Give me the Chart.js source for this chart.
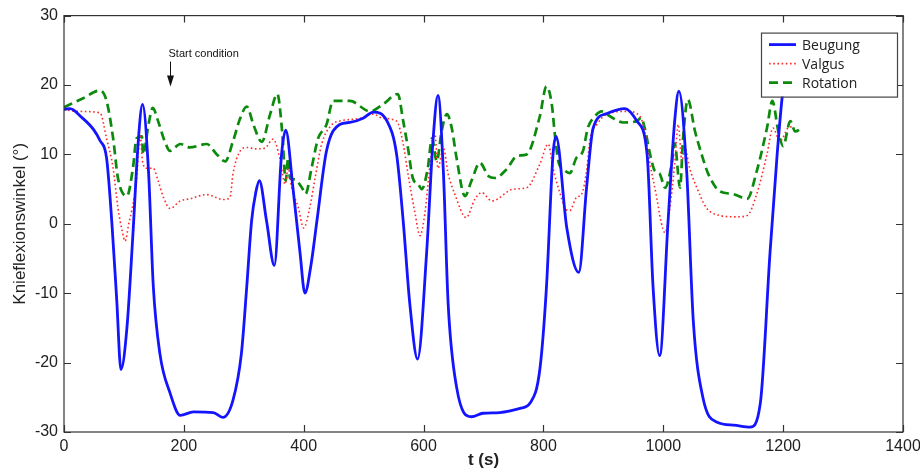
<!DOCTYPE html>
<html>
<head>
<meta charset="utf-8">
<script src="https://cdn.jsdelivr.net/npm/chart.js@4.4.1/dist/chart.umd.min.js"></script>
<style>
  html, body { margin: 0; padding: 0; background: #fff; }
  #wrap { width: 920px; height: 471px; position: relative; }
</style>
</head>
<body>
<div id="wrap"><canvas id="chart"></canvas></div>
<script>
// values
const beugungT = [0, 10, 30, 50, 60, 71, 80, 88, 95, 105, 115, 124, 131, 141, 149, 160, 177, 194, 216, 249, 265, 282, 296, 305, 313, 320, 326, 338, 351, 363, 370, 382, 394, 402, 412, 422, 438, 460, 477, 499, 516, 539, 555, 566, 577, 590, 605, 616, 624, 633, 641, 655, 680, 699, 727, 761, 778, 794, 805, 816, 821, 839, 859, 872, 883, 906, 936, 956, 973, 983, 994, 1008, 1019, 1026, 1039, 1050, 1066, 1090, 1117, 1145, 1162, 1178, 1190, 1200, 1206];
const beugungV = [16.5, 16.6, 15.3, 13.5, 12, 9.5, 0, -11, -21, -15, -1.5, 12, 17.2, 7.6, -9, -18.7, -24.4, -27.6, -27.1, -27.2, -27.9, -25.4, -18.7, -9, 0.4, 4.5, 6.2, 0.4, -6, 10, 13.5, 5.2, -4.3, -10, -6, 0.4, 10.5, 14.3, 14.6, 15.2, 16.1, 14.8, 10, 0.4, -11.5, -19.5, -4.3, 12.3, 18.5, 7.6, -11.5, -23.5, -27.8, -27.3, -27.2, -26.6, -25.8, -21, -9.2, 10, 12.6, -0.6, -7, 5.2, 13.8, 15.9, 16.6, 14.8, 10, -9.2, -19, 0.4, 14.8, 19.1, 7.6, -13.9, -25, -28.6, -29, -29.3, -25.8, -4.3, 10, 19.5, 22];

const valgusT = [0, 20, 60, 71, 82, 90, 97, 102, 108, 113, 121, 127, 131, 138, 149, 157, 166, 177, 194, 210, 238, 266, 277, 282, 294, 305, 320, 335, 349, 360, 369, 374, 380, 391, 400, 410, 419, 430, 447, 460, 494, 516, 532, 555, 566, 574, 586, 594, 602, 611, 619, 624, 633, 641, 652, 671, 686, 697, 714, 750, 772, 794, 808, 816, 828, 836, 844, 855, 864, 872, 878, 889, 906, 939, 961, 969, 978, 989, 996, 1003, 1011, 1019, 1025, 1031, 1036, 1044, 1056, 1072, 1094, 1122, 1140, 1156, 1173, 1183, 1195, 1208, 1215];
const valgusV = [16.5, 16.2, 16.0, 12.3, 8, 2.3, -1, -2.5, 0, 1.9, 6.2, 12.9, 9, 8, 8, 6.2, 3.8, 2.2, 3.3, 3.6, 4.2, 3.5, 3.8, 7.2, 10.5, 11, 10.8, 10.9, 12.2, 9.5, 5.7, 8, 5.2, 2.3, -0.6, 2.3, 6.6, 11.5, 14.3, 14.8, 15.2, 15.8, 15.2, 14.8, 11.5, 7.2, 1.4, -1.7, 1.4, 8.6, 12.9, 8, 10.9, 7.2, 4.3, 0.9, 3.6, 4.5, 3.3, 5, 5.2, 8.6, 11.5, 8, 4.3, 2.3, 1.9, 3.8, 4.3, 7.6, 12.3, 14.3, 15.8, 16.2, 15.5, 13.3, 8.6, 3.8, 0.4, -1.3, 2.3, 8.6, 14.3, 9, 10.9, 8, 5.2, 2.3, 1.2, 1.0, 1.2, 4.3, 10, 13.8, 11.9, 13.8, 14];

const rotationT = [0, 32, 60, 71, 82, 90, 105, 115, 121, 130, 132, 141, 148, 157, 168, 177, 194, 210, 238, 255, 269, 282, 294, 305, 316, 330, 344, 356, 364, 370, 374, 377, 385, 397, 403, 413, 424, 438, 449, 477, 511, 532, 557, 566, 574, 582, 591, 597, 607, 614, 622, 630, 639, 647, 655, 669, 680, 694, 708, 719, 739, 756, 772, 794, 805, 814, 819, 825, 833, 844, 855, 866, 874, 886, 897, 911, 933, 956, 963, 969, 978, 986, 994, 1003, 1014, 1019, 1028, 1033, 1041, 1053, 1064, 1075, 1094, 1116, 1140, 1156, 1173, 1182, 1192, 1200, 1212, 1220, 1231];
const rotationV = [16.8, 18.1, 19.2, 17.7, 12.3, 6.6, 4, 8, 12.3, 12.6, 10, 14.3, 16.7, 14.8, 11.9, 10.5, 11.5, 11, 11.5, 10, 9, 11.9, 15.2, 16.9, 14.3, 11.8, 15.8, 18.7, 13.3, 6.2, 9.5, 6.6, 6.4, 5.2, 4.3, 8, 12.3, 14.3, 17.7, 17.7, 16.2, 17.2, 18.7, 14.8, 10.9, 6.6, 5.7, 5, 8, 12.3, 9, 13.3, 15.8, 13.8, 9.5, 4, 6.2, 8.8, 6.9, 6.6, 7.9, 9.8, 10, 15.5, 19.8, 17.2, 12.9, 9, 7.9, 7.3, 9.5, 10.5, 13.8, 15.5, 16.2, 15.5, 14.6, 14.8, 15.3, 13.8, 10, 7.6, 7.2, 5.2, 8.6, 11.6, 5.2, 12.3, 17.9, 13.3, 10, 7.2, 4.7, 4.3, 3.6, 7.6, 13.8, 17.7, 13.3, 11.2, 14.8, 13.3, 13.8];

const seriesNames = ['Beugung', 'Valgus', 'Rotation'];
const xTicks = [0, 200, 400, 600, 800, 1000, 1200, 1400];
const yTicks = [-30, -20, -10, 0, 10, 20, 30];
const startConditionT = 177;

const toPoints = (ts, vs) => ts.map((t, i) => ({ x: t, y: vs[i] }));

const BLUE = '#1414ff';
const RED = '#ff2a2a';
const GREEN = '#0c8a0c';

const styles = [
    { color: BLUE, width: 2.8, dash: [] },
    { color: RED, width: 1.6, dash: [1.6, 2.6] },
    { color: GREEN, width: 2.7, dash: [9, 5] },
];

const FONT = '"Liberation Sans", Arial, sans-serif';

// frame with inward ticks, the annotation and the boxed legend
const decorPlugin = {
    id: 'decor',
    afterDatasetsDraw(chart) {
        const { ctx, chartArea: a, scales } = chart;
        const xs = scales.x, ys = scales.y;
        ctx.save();
        ctx.strokeStyle = '#333';
        ctx.lineWidth = 1.2;
        ctx.setLineDash([]);
        ctx.strokeRect(a.left, a.top, a.right - a.left, a.bottom - a.top);
        const tl = 7;
        ctx.beginPath();
        xTicks.forEach(v => {
            const px = Math.round(xs.getPixelForValue(v)) + 0.5;
            ctx.moveTo(px, a.bottom); ctx.lineTo(px, a.bottom - tl);
            ctx.moveTo(px, a.top); ctx.lineTo(px, a.top + tl);
        });
        yTicks.forEach(v => {
            const py = Math.round(ys.getPixelForValue(v)) + 0.5;
            ctx.moveTo(a.left, py); ctx.lineTo(a.left + tl, py);
            ctx.moveTo(a.right, py); ctx.lineTo(a.right - tl, py);
        });
        ctx.stroke();

        // Start condition arrow
        const ax = Math.round(xs.getPixelForValue(startConditionT)) + 0.5;
        ctx.strokeStyle = '#111';
        ctx.fillStyle = '#111';
        ctx.lineWidth = 1;
        ctx.beginPath();
        ctx.moveTo(ax, a.top + 46); ctx.lineTo(ax, a.top + 62);
        ctx.stroke();
        ctx.beginPath();
        ctx.moveTo(ax - 3.5, a.top + 60); ctx.lineTo(ax + 3.5, a.top + 60); ctx.lineTo(ax, a.top + 71);
        ctx.closePath(); ctx.fill();
        ctx.font = '11px ' + FONT;
        ctx.textAlign = 'left';
        ctx.textBaseline = 'middle';
        ctx.fillText('Start condition', ax - 2, a.top + 38);

        // legend box
        const bx = a.right - 142, by = a.top + 17, bw = 136, bh = 64;
        ctx.fillStyle = '#fff';
        ctx.fillRect(bx, by, bw, bh);
        ctx.strokeStyle = '#444';
        ctx.lineWidth = 1.2;
        ctx.strokeRect(bx + 0.5, by + 0.5, bw, bh);
        ctx.font = '14px "Open Sans", "Liberation Sans", sans-serif';
        ctx.fillStyle = '#222';
        seriesNames.forEach((name, i) => {
            const s = styles[i];
            const ry = by + 12 + i * 19;
            ctx.beginPath();
            ctx.strokeStyle = s.color;
            ctx.lineWidth = s.width;
            ctx.setLineDash(s.dash);
            ctx.moveTo(bx + 8, ry); ctx.lineTo(bx + 35, ry);
            ctx.stroke();
            ctx.setLineDash([]);
            ctx.fillText(name, bx + 41, ry + 1);
        });
        ctx.restore();
    }
};

new Chart(document.getElementById('chart'), {
    type: 'line',
    data: {
        datasets: [
            toPoints(beugungT, beugungV),
            toPoints(valgusT, valgusV),
            toPoints(rotationT, rotationV),
        ].map((pts, i) => ({
            label: seriesNames[i],
            data: pts,
            borderColor: styles[i].color,
            borderWidth: styles[i].width,
            borderDash: styles[i].dash,
            pointRadius: 0,
            fill: false,
            cubicInterpolationMode: 'monotone',
        }))
    },
    options: {
        responsive: true,
        maintainAspectRatio: false,
        animation: false,
        layout: { padding: { top: 14, right: 0, left: 0, bottom: 0 } },
        plugins: {
            legend: { display: false },
            tooltip: { enabled: false }
        },
        scales: {
            x: {
                type: 'linear',
                min: 0,
                max: 1400,
                afterBuildTicks: s => { s.ticks = xTicks.map(v => ({ value: v })); },
                afterFit: s => { s.height = 39; s.paddingRight = 17; s.paddingLeft = 0; },
                grid: { display: false, drawTicks: false },
                border: { display: false },
                ticks: {
                    color: '#222',
                    padding: 5,
                    callback: v => String(v),
                    font: { family: FONT, size: 16 }
                },
                title: {
                    display: true,
                    text: 't (s)',
                    color: '#222',
                    padding: { top: 0, bottom: 0 },
                    font: { family: FONT, size: 17, weight: 'bold' }
                }
            },
            y: {
                min: -30,
                max: 30,
                afterBuildTicks: s => { s.ticks = yTicks.map(v => ({ value: v })); },
                afterFit: s => { s.width = 64; },
                grid: { display: false, drawTicks: false },
                border: { display: false },
                ticks: {
                    color: '#222',
                    padding: 6,
                    callback: v => String(v),
                    font: { family: FONT, size: 16 }
                },
                title: {
                    display: true,
                    text: 'Knieflexionswinkel (°)',
                    color: '#222',
                    padding: { top: 10, bottom: 0 },
                    font: { family: FONT, size: 17 }
                }
            }
        }
    },
    plugins: [decorPlugin]
});
</script>
</body>
</html>
